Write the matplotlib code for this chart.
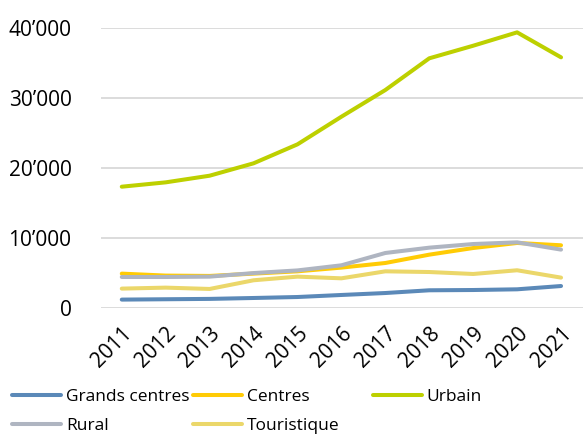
import matplotlib
matplotlib.use("Agg")
import matplotlib.pyplot as plt
from matplotlib.ticker import FuncFormatter

years = list(range(2011, 2022))
grands_centres = [1200, 1250, 1300, 1430, 1570, 1860, 2140, 2530, 2570, 2670, 3140]
centres = [4910, 4630, 4580, 4910, 5240, 5770, 6430, 7620, 8570, 9290, 8960]
urbain = [17330, 17950, 18900, 20670, 23380, 27330, 31140, 35670, 37470, 39380, 35810]
rural = [4430, 4430, 4480, 4990, 5370, 6100, 7860, 8620, 9140, 9380, 8340]
touristique = [2770, 2910, 2720, 3960, 4480, 4240, 5240, 5140, 4860, 5390, 4340]

series = [
    ("Grands centres", grands_centres, "#5B89B8"),
    ("Centres", centres, "#FFCB05"),
    ("Urbain", urbain, "#BDD000"),
    ("Rural", rural, "#AFB5C1"),
    ("Touristique", touristique, "#EBD76A"),
]

plt.rcParams['font.family'] = ['Open Sans', 'DejaVu Sans']

W, H = 583, 437
fig = plt.figure(figsize=(W / 100, H / 100), dpi=100)
ax = fig.add_axes([0.1727, 0.2952, 0.8273, 0.6407])

lines = []
for name, vals, col in series:
    ln, = ax.plot(years, vals, color=col, lw=2.9, label=name, solid_capstyle='round', clip_on=False)
    lines.append(ln)

ax.set_xlim(2010.52, 2021.5)
ax.set_ylim(0, 40000)
ax.set_yticks([0, 10000, 20000, 30000, 40000])
ax.yaxis.set_major_formatter(FuncFormatter(lambda v, p: "0" if v == 0 else f"{int(v):,}".replace(",", "\u2019")))
ax.set_xticks(years)
ax.set_xticklabels([str(y) for y in years], rotation=45, ha='right', rotation_mode='anchor')
ax.tick_params(axis='both', length=0, labelsize=15, colors='#000000')
ax.tick_params(axis='y', pad=21)
ax.tick_params(axis='x', pad=11)
ax.grid(axis='y', color='#D9D9D9', lw=1.3)
ax.set_axisbelow(True)
for s in ax.spines.values():
    s.set_visible(False)

# legend laid out row-wise in fixed columns
legend_pos = [(12, 397), (193, 397), (373, 397), (12, 426), (193, 426)]
for ln, (px, py) in zip(lines, legend_pos):
    lg = fig.legend([ln], [ln.get_label()], loc='center left',
                    bbox_to_anchor=(px / W, 1 - py / H), frameon=False,
                    fontsize=12.5, handlelength=2.8, handletextpad=0.3,
                    borderpad=0, borderaxespad=0)

fig.savefig("out.png", dpi=100)
